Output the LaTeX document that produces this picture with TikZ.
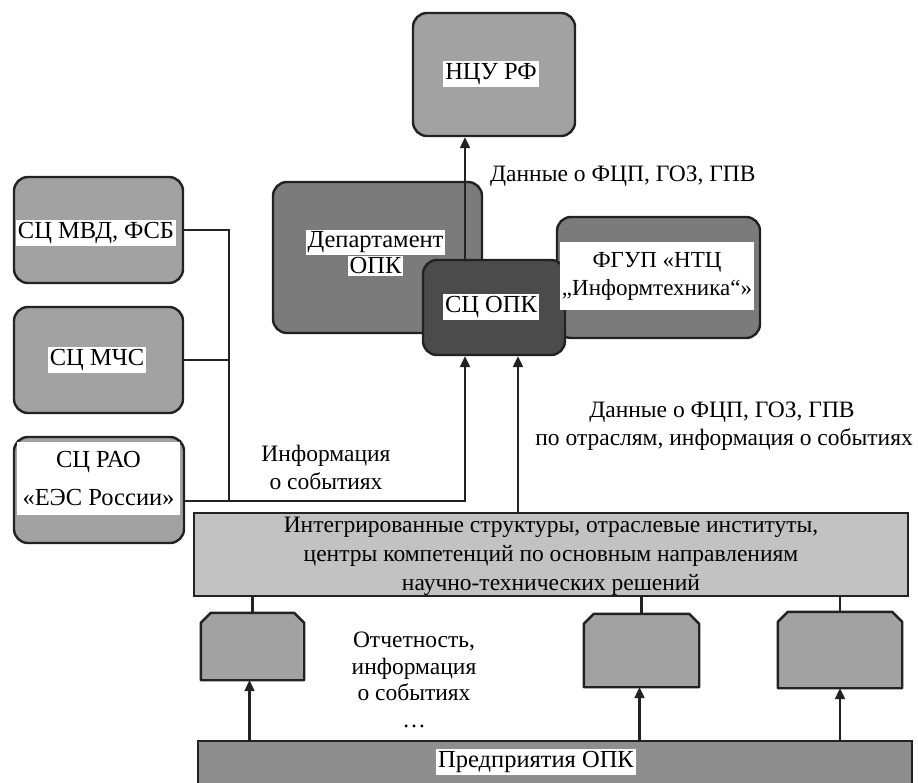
\documentclass[tikz,border=0pt]{standalone}
\usepackage{fontspec}
\setmainfont{Liberation Serif}
\newfontfamily\tms{Liberation Serif}
\usetikzlibrary{arrows.meta}
\definecolor{gLight}{HTML}{A2A2A2}
\definecolor{gMid}{HTML}{7B7B7B}
\definecolor{gDark}{HTML}{4B4B4B}
\definecolor{gBig}{HTML}{C2C2C2}
\definecolor{gBot}{HTML}{8E8E8E}
\definecolor{edge}{HTML}{222222}
\newcommand\chbox[1]{\draw[cfill] (#1.south west) -- ([yshift=-10pt]#1.north west) -- ([xshift=10pt]#1.north west) -- ([xshift=-10pt]#1.north east) -- ([yshift=-10pt]#1.north east) -- (#1.south east) -- cycle;}
\begin{document}
\begin{tikzpicture}[x=1pt,y=-1pt,
  every node/.style={font=\tms\fontsize{23.5}{28}\selectfont, text=black},
  big/.style={font=\tms\fontsize{24.5}{30}\selectfont},
  rbox/.style={draw=edge, line width=2.4pt, rounded corners=14pt, rectangle, inner sep=0pt},
  sqbox/.style={draw=edge, line width=2.4pt, rectangle, inner sep=0pt},
  ghost/.style={rectangle, inner sep=0pt, draw=none},
  cfill/.style={draw=edge, line width=2.4pt, fill=gLight, line join=round},
  lbl/.style={fill=white, inner sep=2pt, big},
  txt/.style={inner sep=0pt, align=center},
  conn/.style={draw=edge, line width=2.2pt},
  arr/.style={conn, -{Triangle[length=11pt,width=10pt]}}
]
\useasboundingbox (0,0) rectangle (918,782);
\clip (0,0) rectangle (918,782);
\fill[white] (0,0) rectangle (918,782);

% upper boxes
\node[rbox, fill=gMid, minimum width=209pt, minimum height=151pt] (Dep) at (377.5,257.5) {};
\node[rbox, fill=gLight, minimum width=162pt, minimum height=123pt] (NCU) at (494,74.5) {};
\node[rbox, fill=gMid, minimum width=203pt, minimum height=121pt] (FGUP) at (658.5,277.5) {};
\node[rbox, fill=gDark, minimum width=142pt, minimum height=95pt] (SCOPK) at (494,307.5) {};
\coordinate (topL) at ([xshift=-29pt]NCU.south);
\coordinate (upL) at ([xshift=-29pt]SCOPK.north);
\draw[arr] (upL) -- (topL);

% left boxes
\node[rbox, fill=gLight, minimum width=169pt, minimum height=106pt] (MVD) at (98.5,230) {};
\node[rbox, fill=gLight, minimum width=169pt, minimum height=106pt] (MCHS) at (98.5,360) {};
\node[rbox, fill=gLight, minimum width=170pt, minimum height=106pt] (RAO) at (99,490) {};

% big box and bottom
\node[sqbox, fill=gBig, minimum width=714pt, minimum height=83pt] (Big) at (551,554.5) {};
\node[sqbox, fill=gBot, minimum width=714pt, minimum height=80pt] (Bot) at (555,781) {};

% small chamfered boxes
\node[ghost, minimum width=103pt, minimum height=67pt] (S1) at (252.5,646.5) {};
\node[ghost, minimum width=115pt, minimum height=73pt] (S2) at (641.5,650.5) {};
\node[ghost, minimum width=124pt, minimum height=76pt] (S3) at (840,650) {};
\chbox{S1}
\chbox{S2}
\chbox{S3}

% connectors
\coordinate (bus) at (229,0);
\coordinate (raoOut) at ([yshift=-11pt]RAO.east);
\draw[conn] (MVD.east) -- (MVD.east -| bus) -- (raoOut -| bus);
\draw[conn] (MCHS.east) -- (MCHS.east -| bus);
\coordinate (inL) at ([xshift=-29pt]SCOPK.south);
\coordinate (inR) at ([xshift=24pt]SCOPK.south);
\draw[arr] (raoOut) -| (inL);
\draw[arr] (Big.north -| inR) -- (inR);
\draw[conn] (S1.north) -- (S1.north |- Big.south);
\draw[conn] (S2.north) -- (S2.north |- Big.south);
\draw[conn] (S3.north) -- (S3.north |- Big.south);
\draw[arr] ([xshift=-3pt]S1.south |- Bot.north) -- ([xshift=-3pt]S1.south);
\draw[arr] ([xshift=-2pt]S2.south |- Bot.north) -- ([xshift=-2pt]S2.south);
\draw[arr] (S3.south |- Bot.north) -- (S3.south);

% labels
\node[lbl] (tNCU) at (491,74) {НЦУ РФ};
\node[txt, big] (tDep) at (375.5,253) {\setlength{\fboxsep}{1.5pt}\colorbox{white}{Департамент}\\[-4pt]\setlength{\fboxsep}{1.5pt}\colorbox{white}{ОПК}};
\node[lbl] (tSCOPK) at (491,307) {СЦ ОПК};
\node[lbl, align=center, minimum width=180pt, minimum height=68pt, inner sep=2pt, font=\tms\fontsize{23}{28}\selectfont] (tFGUP) at (657,276) {ФГУП «НТЦ\\„Информтехника“»};
\node[lbl] (tMVD) at (96,233) {СЦ МВД, ФСБ};
\node[lbl] (tMCHS) at (97,360) {СЦ МЧС};
\node[lbl, align=center, minimum width=163pt, minimum height=73pt, font=\tms\fontsize{24.5}{38}\selectfont] (tRAO) at (98.5,478.5) {СЦ РАО\\«ЕЭС России»};
\node[txt, anchor=west] (tData1) at (490,176) {Данные о ФЦП, ГОЗ, ГПВ};
\node[txt] (tInfo) at (326,467) {Информация\\о событиях};
\node[txt] (tData2a) at (722,412) {Данные о ФЦП, ГОЗ, ГПВ};
\node[txt, anchor=east] (tData2b) at (913,440) {по отраслям, информация о событиях};
\node[txt, font=\tms\fontsize{23.5}{29}\selectfont] (tBig) at (551,556) {Интегрированные структуры, отраслевые институты,\\центры компетенций по основным направлениям\\научно-технических решений};
\node[txt, font=\tms\fontsize{23.5}{26.5}\selectfont] (tRep) at (414,680) {Отчетность,\\информация\\о событиях\\…};
\node[lbl] (tBot) at (536,762) {Предприятия ОПК};
\end{tikzpicture}
\end{document}
